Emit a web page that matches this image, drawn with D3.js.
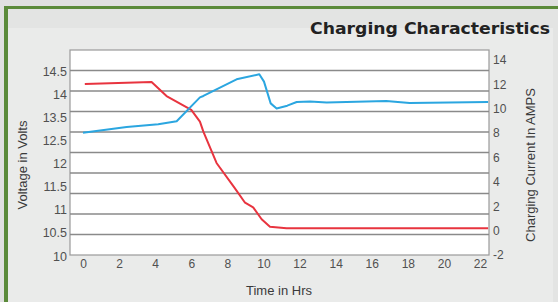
<!DOCTYPE html>
<html><head><meta charset="utf-8">
<script src="https://cdn.jsdelivr.net/npm/d3@7"></script>
<style>html,body{margin:0;padding:0;background:#e0e0e0;overflow:hidden}</style>
</head><body>
<svg id="c" width="558" height="302"></svg>
<script>
// ---- data ----
const timeTicks = [0,2,4,6,8,10,12,14,16,18,20,22];
const voltTicks = [10,10.5,11,11.5,12,12.5,13.5,14,14.5];
const ampTicks = [-2,0,2,4,6,8,10,12,14];
const currentTime = [0.1,3.8,4.63,6.0,6.48,6.67,7.4,8.42,8.98,9.43,9.9,10.36,11.28,22.45];
const currentAmps = [12.03,12.2,11.04,9.9,8.94,8.12,5.55,3.47,2.29,1.91,0.93,0.32,0.19,0.19];
const voltTime = [0,2.42,4.17,5.19,6.48,6.67,8.51,9.77,10.03,10.4,10.73,11.32,11.84,12.58,13.5,16.8,18.1,22.45];
const voltValues = [12.83,13.08,13.2,13.33,13.93,13.96,14.32,14.43,14.27,13.80,13.69,13.75,13.83,13.84,13.82,13.85,13.81,13.83];
const gridCount = 10;

const svg = d3.select('#c');
const L = 70, R = 489, T = 50, B = 255;

// background panels
svg.append('rect').attr('x',4).attr('y',6).attr('width',560).attr('height',300).attr('fill','#5b8a3a');
svg.append('rect').attr('x',8).attr('y',9).attr('width',560).attr('height',300).attr('fill','#e3e4e3');
svg.append('rect').attr('x',8).attr('y',28).attr('width',545).attr('height',280).attr('fill','#eaebea');

// title
svg.append('text').attr('x',550).attr('y',34).attr('text-anchor','end')
  .attr('font-family','DejaVu Sans Condensed, DejaVu Sans').attr('font-weight','bold').attr('font-size',16.5)
  .attr('fill','#222').attr('textLength',240).attr('lengthAdjust','spacingAndGlyphs')
  .text('Charging Characteristics');

// scales
const x = d3.scaleLinear().domain([0,22]).range([83,480]);
const yV = d3.scaleLinear().domain(voltTicks)
  .range(voltTicks.map((d,i)=> 256 - i*(256-71)/(voltTicks.length-1)));
const yA = d3.scaleLinear().domain([-2,14]).range([255,60]);
const yG = d3.scaleLinear().domain([0,gridCount]).range([B,T]);

// plot area
svg.append('rect').attr('x',L).attr('y',T).attr('width',R-L).attr('height',B-T)
  .attr('fill','#fff').attr('stroke','#9a9a9a').attr('stroke-width',1.2);
svg.append('g').selectAll('line').data(d3.range(1,gridCount)).join('line')
  .attr('x1',L).attr('x2',R).attr('y1',d=>yG(d)).attr('y2',d=>yG(d))
  .attr('stroke','#8a8a8a').attr('stroke-width',1.6);

const font = 'Liberation Sans, Arial, sans-serif';
// left axis
const la = svg.append('g').attr('transform',`translate(67,0)`)
  .call(d3.axisLeft(yV).tickValues(voltTicks).tickSize(0).tickPadding(0).tickFormat(d3.format('')));
la.select('.domain').remove();
la.selectAll('text').attr('font-family',font).attr('font-size',12.5).attr('fill','#505050');
// right axis
const ra = svg.append('g').attr('transform',`translate(493,0)`)
  .call(d3.axisRight(yA).tickValues(ampTicks).tickSize(0).tickPadding(0));
ra.select('.domain').remove();
ra.selectAll('text').attr('font-family',font).attr('font-size',12).attr('fill','#505050').text(d=>d<0?'-'+Math.abs(d):d);
// bottom axis
const ba = svg.append('g').attr('transform',`translate(0,259)`)
  .call(d3.axisBottom(x).tickValues(timeTicks).tickSize(0).tickPadding(0));
ba.select('.domain').remove();
ba.selectAll('text').attr('font-family',font).attr('font-size',12).attr('fill','#505050');

// axis titles
svg.append('text').attr('transform','translate(27,165) rotate(-90)').attr('text-anchor','middle')
  .attr('font-family',font).attr('font-size',13).attr('fill','#3a3a3a').text('Voltage in Volts');
svg.append('text').attr('transform','translate(535,165) rotate(-90)').attr('text-anchor','middle')
  .attr('font-family',font).attr('font-size',13).attr('fill','#3a3a3a').text('Charging Current In AMPS');
svg.append('text').attr('x',279).attr('y',295).attr('text-anchor','middle')
  .attr('font-family',font).attr('font-size',13).attr('fill','#3a3a3a').text('Time in Hrs');

// lines
const redLine = d3.line().x((d,i)=>x(currentTime[i])).y((d,i)=>yA(currentAmps[i]));
svg.append('path').attr('d',redLine(currentTime)).attr('fill','none')
  .attr('stroke','#e8343f').attr('stroke-width',2).attr('stroke-linejoin','round');
const blueLine = d3.line().x((d,i)=>x(voltTime[i])).y((d,i)=>yV(voltValues[i]));
svg.append('path').attr('d',blueLine(voltTime)).attr('fill','none')
  .attr('stroke','#2ba6e0').attr('stroke-width',2).attr('stroke-linejoin','round');
</script>
</body></html>
